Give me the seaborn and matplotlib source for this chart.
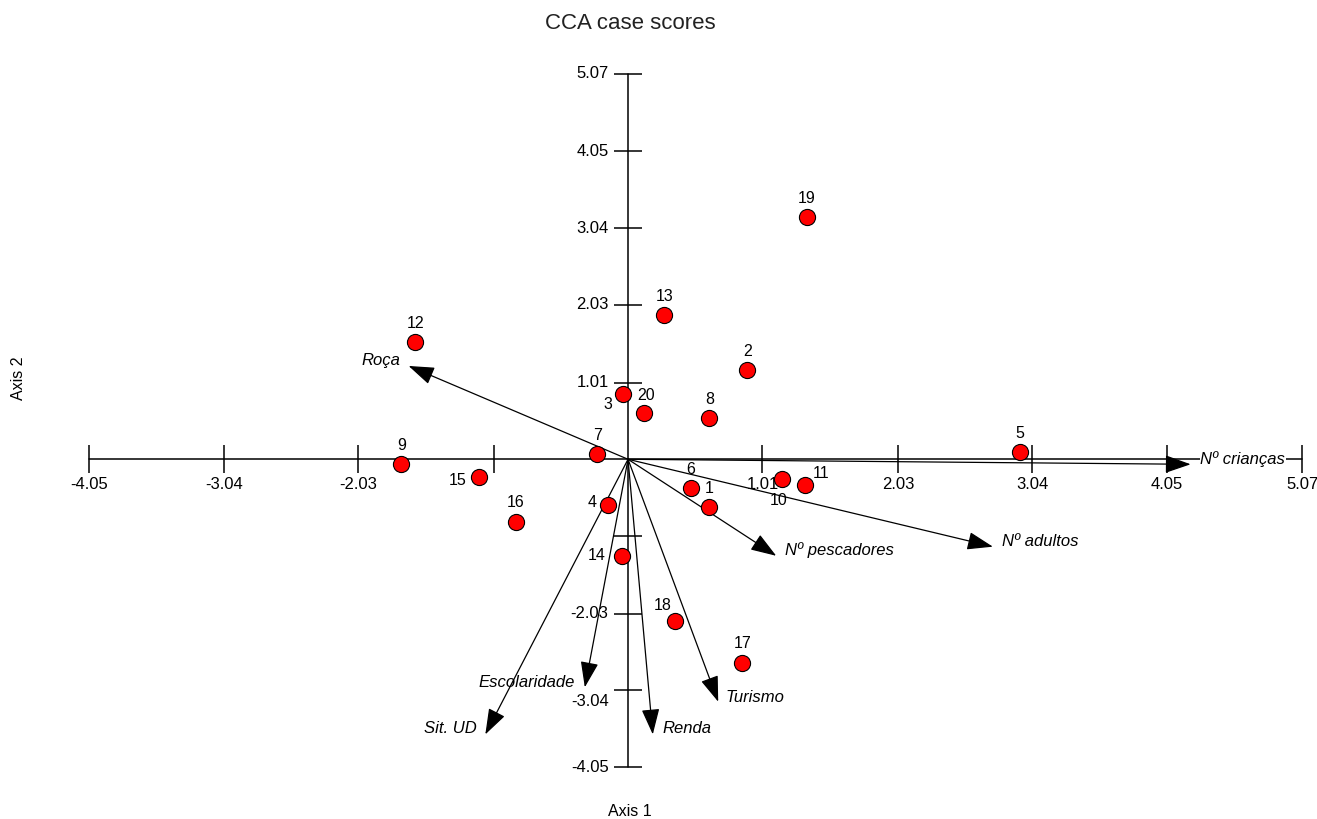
import matplotlib
matplotlib.use("Agg")
import matplotlib.pyplot as plt
import seaborn as sns
import pandas as pd

# ---------------- data ----------------
case_ids = ["1", "2", "3", "4", "5", "6", "7", "8", "9", "10",
            "11", "12", "13", "14", "15", "16", "17", "18", "19", "20"]
case_x = [0.611, 0.896, -0.036, -0.147, 2.944, 0.470, -0.231, 0.611, -1.705, 1.158,
          1.329, -1.600, 0.273, -0.046, -1.120, -0.845, 0.859, 0.355, 1.346, 0.122]
case_y = [-0.627, 1.170, 0.855, -0.601, 0.092, -0.381, 0.066, 0.539, -0.066, -0.263,
          -0.334, 1.542, 1.897, -1.272, -0.237, -0.821, -2.675, -2.122, 3.190, 0.605]

var_names = ["Roça", "Nº crianças", "Nº adultos", "Nº pescadores",
             "Turismo", "Renda", "Escolaridade", "Sit. UD"]
var_x = [-1.650, 4.230, 2.743, 1.114, 0.678, 0.186, -0.325, -1.073]
var_y = [1.228, -0.066, -1.150, -1.270, -3.190, -3.620, -3.000, -3.620]

x_ticks = [-4.05, -3.04, -2.03, -1.01, 1.01, 2.03, 3.04, 4.05, 5.07]
x_tick_labels = ["-4.05", "-3.04", "-2.03", "", "1.01", "2.03", "3.04", "4.05", "5.07"]
y_ticks = [5.07, 4.05, 3.04, 2.03, 1.01, -1.01, -2.03, -3.04, -4.05]
y_tick_labels = ["5.07", "4.05", "3.04", "2.03", "1.01", "", "-2.03", "-3.04", "-4.05"]

title = "CCA case scores"
x_title = "Axis 1"
y_title = "Axis 2"

# ---------------- style ----------------
sns.set_style("white")
plt.rcParams["font.family"] = ["Liberation Sans", "DejaVu Sans"]
plt.rcParams["text.color"] = "black"

fig = plt.figure(figsize=(13.17, 8.19), dpi=100)
fig.patch.set_facecolor("white")
ax = fig.add_axes([0, 0, 1, 1])

# axes lines through origin
ax.plot([x_ticks[0], x_ticks[-1]], [0, 0], color="black", lw=1.1, zorder=1)
ax.plot([0, 0], [y_ticks[-1], y_ticks[0]], color="black", lw=1.1, zorder=1)
# tick marks crossing the axes
ax.plot(x_ticks, [0] * len(x_ticks), linestyle="none", marker="|",
        markersize=20, mew=1.1, color="black", zorder=1)
ax.plot([0] * len(y_ticks), y_ticks, linestyle="none", marker="_",
        markersize=20, mew=1.1, color="black", zorder=1)

for xv, lab in zip(x_ticks, x_tick_labels):
    if lab:
        ax.annotate(lab, xy=(xv, 0), xytext=(0, -18), textcoords="offset points",
                    ha="center", va="center", fontsize=12, color="black", zorder=4)

y_label_dy = {"-3.04": -8}
for yv, lab in zip(y_ticks, y_tick_labels):
    if lab:
        ax.annotate(lab, xy=(0, yv), xytext=(-14, y_label_dy.get(lab, 0)),
                    textcoords="offset points", ha="right", va="center",
                    fontsize=12, color="black", zorder=4)

# environmental variable arrows
var_offsets = {
    "Roça": (-6, 4, "right"),
    "Nº crianças": (7, 4, "left"),
    "Nº adultos": (6.5, 3.6, "left"),
    "Nº pescadores": (6.5, 4.3, "left"),
    "Turismo": (5, 3, "left"),
    "Renda": (7, 4.3, "left"),
    "Escolaridade": (-7.4, 3.3, "right"),
    "Sit. UD": (-6.5, 4.3, "right"),
}
for name, vx, vy in zip(var_names, var_x, var_y):
    ax.annotate("", xy=(vx, vy), xytext=(0, 0),
                arrowprops=dict(arrowstyle="-|>,head_length=0.8,head_width=0.28",
                                mutation_scale=20, color="black", lw=0.9,
                                shrinkA=0, shrinkB=0), zorder=2)
    dx, dy, ha = var_offsets[name]
    bbox = None
    if name == "Nº crianças":
        bbox = dict(facecolor="white", edgecolor="none", pad=0.5)
    ax.annotate(name, xy=(vx, vy), xytext=(dx, dy), textcoords="offset points",
                ha=ha, va="center", fontsize=12, style="italic", color="black",
                bbox=bbox, zorder=4)

# case scores
df = pd.DataFrame({"id": case_ids, "x": case_x, "y": case_y})
sns.scatterplot(data=df, x="x", y="y", color="#ff0000", edgecolor="black",
                s=135, linewidth=0.8, ax=ax, zorder=3, legend=False)
ax.set_xlim(-4.722, 5.180)
ax.set_ylim(-4.733, 6.043)
ax.axis("off")

case_offsets = {"3": (-11, -7), "15": (-15.5, -2.5), "4": (-12, 1.5), "14": (-18, 0),
                "10": (-2.5, -15), "11": (12, 7.7), "18": (-9, 11), "20": (1.3, 12.7)}
for cid, cx, cy in zip(case_ids, case_x, case_y):
    dx, dy = case_offsets.get(cid, (0, 13.5))
    ax.annotate(cid, xy=(cx, cy), xytext=(dx, dy), textcoords="offset points",
                ha="center", va="center", fontsize=11.5, color="black", zorder=4)

fig.text(0.4784, 0.9707, title, ha="center", va="center", fontsize=16, color="#222222")
fig.text(0.478, 0.0095, x_title, ha="center", va="center", fontsize=11.5, color="black")
fig.text(0.0137, 0.5385, y_title, ha="center", va="center", fontsize=11.5,
         rotation=90, color="black")

fig.savefig("out.png", dpi=100, facecolor="white")
